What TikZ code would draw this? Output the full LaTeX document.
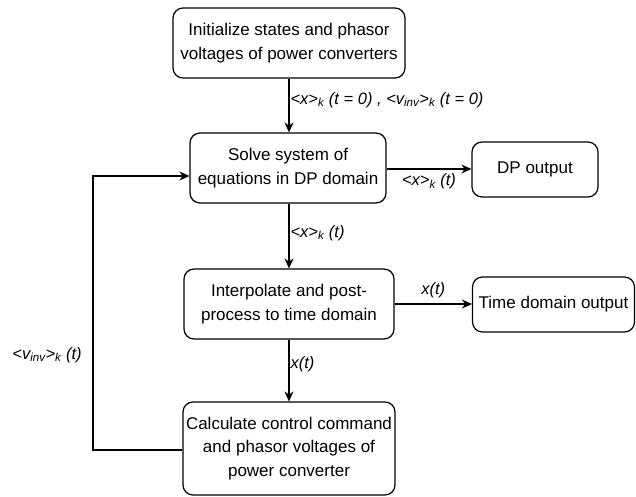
\documentclass[tikz,border=0pt]{standalone}
\usepackage{fontspec}
\setmainfont{Liberation Sans}
\usetikzlibrary{arrows.meta,calc}
\tikzset{
  box/.style={draw, line width=1.2pt, rounded corners=10pt, align=center, inner sep=2pt, font=\fontsize{17}{23.5}\selectfont},
  arr/.style={line width=1.2pt, -{Stealth[length=10pt,width=9pt]}},
  lab/.style={font=\fontsize{16.5}{18}\selectfont\itshape, inner sep=1pt}
}
\newcommand{\sbs}[1]{\textsubscript{#1}}
\begin{document}
\begin{tikzpicture}[x=1pt,y=-1pt]
\useasboundingbox (0,0) rectangle (636,497);
\node[box, minimum width=232pt, minimum height=70pt] (b1) at (289,43) {Initialize states and phasor\\voltages of power converters};
\node[box, minimum width=196pt, minimum height=70pt] (b2) at (288,168) {Solve system of\\equations in DP domain};
\node[box, minimum width=210pt, minimum height=70pt] (b3) at (289,304) {Interpolate and post-\\process to time domain};
\node[box, minimum width=212pt, minimum height=93pt] (b4) at (289,448.5) {Calculate control command\\and phasor voltages of\\power converter};
\node[box, minimum width=126pt, minimum height=55pt] (dp) at (535,169.5) {DP output};
\node[box, minimum width=162pt, minimum height=55pt] (td) at (553.5,304.5) {Time domain output};

\draw[arr] (b1.south -| 289,0) -- (b2.north -| 289,0)
  node[lab, pos=0.4, right] {<x>\sbs{k} (t = 0) , <v\sbs{inv}>\sbs{k} (t = 0)};
\draw[arr] (b2.east |- 0,169) -- (dp.west |- 0,169)
  node[lab, midway, below=3pt] {<x>\sbs{k} (t)};
\draw[arr] (b2.south -| 289,0) -- (b3.north -| 289,0)
  node[lab, pos=0.45, right] {<x>\sbs{k} (t)};
\draw[arr] (b3.east |- 0,304) -- (td.west |- 0,304)
  node[lab, midway, above=4pt] {x(t)};
\draw[arr] (b3.south -| 289,0) -- (b4.north -| 289,0)
  node[lab, pos=0.4, right] {x(t)};
\coordinate (f1) at (93,450);
\coordinate (f2) at (93,176);
\draw[arr] (b4.west |- f1) -- (f1) -- (f2) -- (b2.west |- f2);
\node[lab] (fl) at (47,355) {<v\sbs{inv}>\sbs{k} (t)};
\end{tikzpicture}
\end{document}
